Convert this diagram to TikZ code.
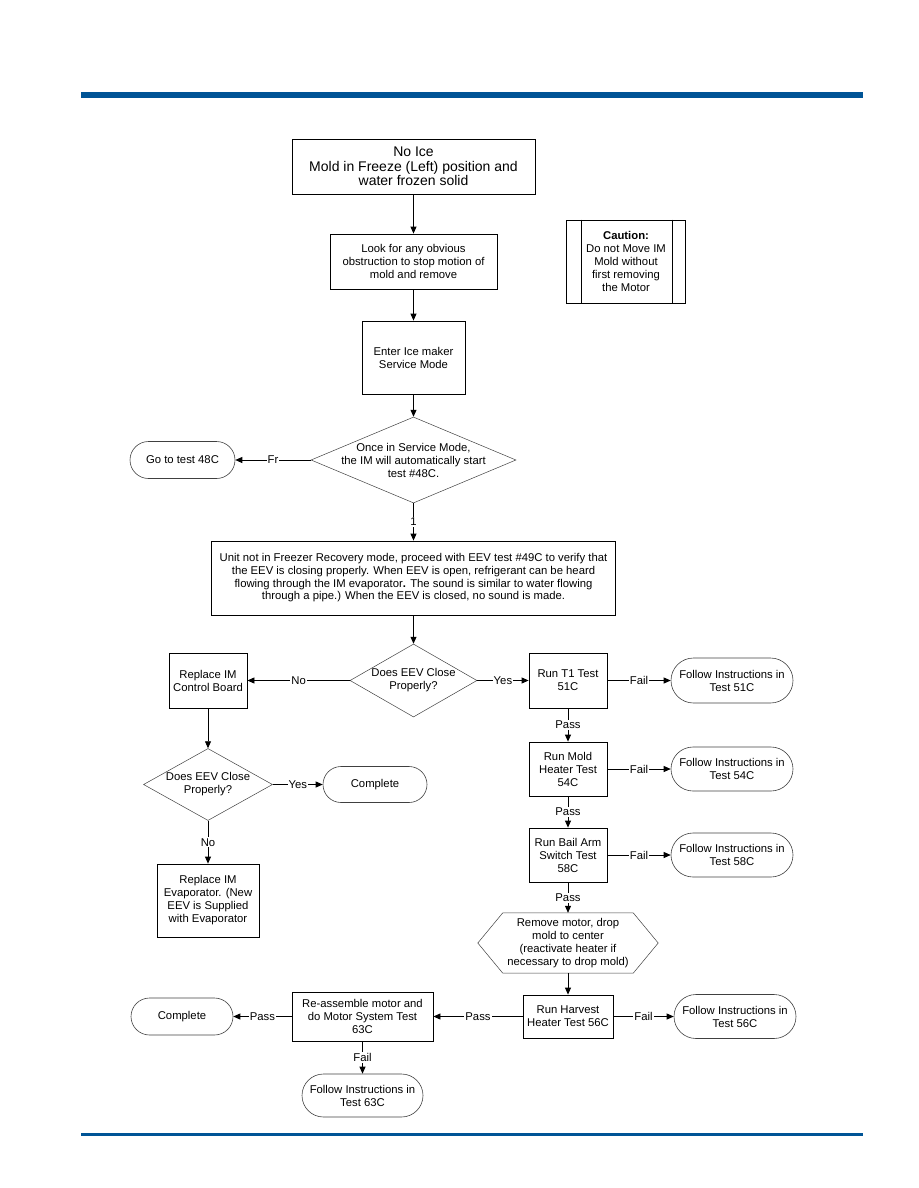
\documentclass[tikz,border=0pt]{standalone}
\usepackage{fontspec}
\setmainfont{Liberation Sans}
\usetikzlibrary{shapes.geometric,shapes.misc,arrows.meta}
\definecolor{barblue}{RGB}{0,84,150}
\begin{document}
\begin{tikzpicture}[x=1pt,y=-1pt,
  every node/.style={font=\fontsize{11.3}{13}\selectfont, align=center, inner sep=0pt},
  box/.style={draw, line width=0.8pt, rectangle},
  term/.style={draw=black!75, line width=0.6pt, rounded rectangle},
  dia/.style={draw=black!75, line width=0.5pt, diamond},
  hexline/.style={draw=black!75, line width=0.5pt},
  conn/.style={line width=0.8pt, -{Triangle[length=7pt,width=6pt]}},
  plain/.style={line width=0.8pt},
  lab/.style={fill=white, inner sep=1pt}
]
\useasboundingbox (0,0) rectangle (918,1188);
\fill[barblue] (81,92) rectangle (863,98);
\fill[barblue] (81,1133) rectangle (863,1136);

% nodes
\node[box, minimum width=243pt, minimum height=55pt, font=\fontsize{14}{14.3}\selectfont] (top) at (413.5,166.5)
  {No Ice\\Mold in Freeze (Left) position and\\water frozen solid};
\node[box, minimum width=167pt, minimum height=55pt] (look) at (413.5,261.5)
  {Look for any obvious\\obstruction to stop motion of\\mold and remove};
\node[box, minimum width=103pt, minimum height=73pt] (enter) at (413.5,357.5)
  {Enter Ice maker\\Service Mode};
\node[box, minimum width=119pt, minimum height=83pt] (caution) at (626,261.5)
  {\textbf{Caution:}\\Do not Move IM\\Mold without\\first removing\\the Motor};
\draw[plain] ([xshift=15pt]caution.north west) -- ([xshift=15pt]caution.south west);
\draw[plain] ([xshift=-14pt]caution.north east) -- ([xshift=-14pt]caution.south east);

\node[dia, minimum width=205pt, minimum height=86pt] (d1) at (413.5,460) {};
\node (d1t) at (413.5,460.5) {Once in Service Mode,\\the IM will automatically start\\test \#48C.};
\node[term, minimum width=105pt, minimum height=37pt] (go48) at (182.5,460) {Go to test 48C};

\node[box, minimum width=404pt, minimum height=74pt, font=\fontsize{11.3}{12.7}\selectfont] (big) at (413.5,578)
  {Unit not in Freezer Recovery mode, proceed with EEV test \#49C to verify that\\
   the EEV is closing properly. When EEV is open, refrigerant can be heard\\
   flowing through the IM evaporator\textbf{.} The sound is similar to water flowing\\
   through a pipe.) When the EEV is closed, no sound is made.};

\node[dia, minimum width=127pt, minimum height=73pt] (d2) at (413.5,680.5) {};
\node (d2t) at (413.5,680.5) {Does EEV Close\\Properly?};
\node[box, minimum width=78pt, minimum height=55pt] (board) at (208,680.5) {Replace IM\\Control Board};
\node[box, minimum width=78pt, minimum height=55pt] (t1) at (568,680.5) {Run T1 Test\\51C};
\node[term, minimum width=122pt, minimum height=45pt] (f51) at (732,680.5) {Follow Instructions in\\Test 51C};
\node[box, minimum width=78pt, minimum height=54pt] (mold) at (568,769) {Run Mold\\Heater Test\\54C};
\node[term, minimum width=122pt, minimum height=44pt] (f54) at (732,769) {Follow Instructions in\\Test 54C};
\node[box, minimum width=78pt, minimum height=54pt] (bail) at (568,855) {Run Bail Arm\\Switch Test\\58C};
\node[term, minimum width=122pt, minimum height=44pt] (f58) at (732,855) {Follow Instructions in\\Test 58C};
\node[minimum width=180pt, minimum height=60pt] (hex) at (568,943)
  {Remove motor, drop\\mold to center\\(reactivate heater if\\necessary to drop mold)};
\draw[hexline] ([xshift=25pt]hex.north west) -- ([xshift=-25pt]hex.north east) -- (hex.east)
  -- ([xshift=-25pt]hex.south east) -- ([xshift=25pt]hex.south west) -- (hex.west) -- cycle;
\node[box, minimum width=90pt, minimum height=43pt] (harv) at (568,1016.5) {Run Harvest\\Heater Test 56C};
\node[term, minimum width=122pt, minimum height=44pt] (f56) at (735,1016.5) {Follow Instructions in\\Test 56C};
\node[box, minimum width=141pt, minimum height=49pt] (reas) at (362.5,1016.5) {Re-assemble motor and\\do Motor System Test\\63C};
\node[term, minimum width=102pt, minimum height=37pt] (comp2) at (182,1016.5) {Complete};
\node[term, minimum width=121pt, minimum height=43pt] (f63) at (362.5,1095.5) {Follow Instructions in\\Test 63C};

\node[dia, minimum width=129pt, minimum height=72pt] (d3) at (208,784.5) {};
\node (d3t) at (208,784.5) {Does EEV Close\\Properly?};
\node[term, minimum width=104pt, minimum height=36pt] (comp1) at (375,784.5) {Complete};
\node[box, minimum width=102pt, minimum height=73pt] (evap) at (208,900.5)
  {Replace IM\\Evaporator. (New\\EEV is Supplied\\with Evaporator};

% connectors
\draw[conn] (top.south) -- (look.north);
\draw[conn] (look.south) -- (enter.north);
\draw[conn] (enter.south) -- (d1.north);
\draw[conn] (d1.west) -- node[lab]{Fr} (go48.east);
\draw[conn] (d1.south) -- node[lab]{1} (big.north);
\draw[conn] (big.south) -- (d2.north);
\draw[conn] (d2.west) -- node[lab]{No} (board.east);
\draw[conn] (d2.east) -- node[lab]{Yes} (t1.west);
\draw[conn] (t1.east) -- node[lab]{Fail} (f51.west);
\draw[conn] (t1.south) -- node[lab]{Pass} (mold.north);
\draw[conn] (mold.east) -- node[lab]{Fail} (f54.west);
\draw[conn] (mold.south) -- node[lab]{Pass} (bail.north);
\draw[conn] (bail.east) -- node[lab]{Fail} (f58.west);
\draw[conn] (bail.south) -- node[lab]{Pass} (hex.north);
\draw[conn] (hex.south) -- (harv.north);
\draw[conn] (harv.east) -- node[lab]{Fail} (f56.west);
\draw[conn] (harv.west) -- node[lab]{Pass} (reas.east);
\draw[conn] (reas.west) -- node[lab]{Pass} (comp2.east);
\draw[conn] (reas.south) -- node[lab]{Fail} (f63.north);
\draw[conn] (board.south) -- (d3.north);
\draw[conn] (d3.east) -- node[lab]{Yes} (comp1.west);
\draw[conn] (d3.south) -- node[lab]{No} (evap.north);
\end{tikzpicture}
\end{document}
